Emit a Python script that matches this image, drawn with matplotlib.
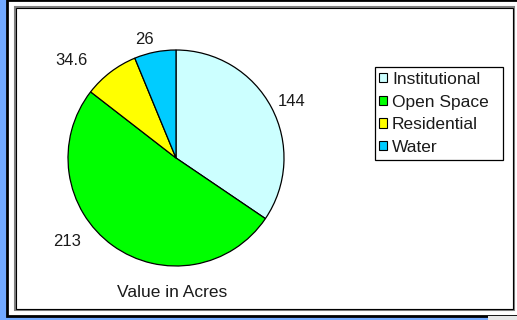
import matplotlib.pyplot as plt
from matplotlib.patches import Rectangle, Patch

plt.rcParams['font.family'] = ['Liberation Sans', 'DejaVu Sans']

# land use values (acres)
categories = ["Institutional", "Open Space", "Residential", "Water"]
values = [144, 213, 34.6, 26]
value_labels = ["144", "213", "34.6", "26"]
colors = ["#CCFFFF", "#00FF00", "#FFFF00", "#00CCFF"]

# where each value label sits, in pie units (radius = 1)
label_pos = [(1.07, 0.52), (-1.01, -0.77), (-0.97, 0.90), (-0.29, 1.10)]

W, H = 517, 320
fig = plt.figure(figsize=(W / 100, H / 100), dpi=100, facecolor="#72A9FF")


def box(x0, y0, x1, y1, z=-10, **kw):
    # rectangle given in pixels, origin at top-left
    r = Rectangle((x0 / W, 1 - y1 / H), (x1 - x0) / W, (y1 - y0) / H,
                  transform=fig.transFigure, zorder=z, **kw)
    fig.add_artist(r)


# outer panel with its dark edge, then the inner framed area
box(7, 0, 530, 316, facecolor="white", edgecolor="black", lw=2.0)
box(488, 316, 517, 320, facecolor="#E8E8E8", edgecolor="none")
box(14.5, 6.5, 513.5, 309.5, facecolor="white", edgecolor="#808080", lw=1.5)
box(15.5, 7.5, 513, 309, facecolor="none", edgecolor="black", lw=0.8)

# legend box
box(374.5, 66.5, 502.5, 159.5, facecolor="white", edgecolor="black", lw=0.9)

# pie: centre (176, 158), radius 108 px
cx, cy, r = 176, 158, 108
ax = fig.add_axes([(cx - r) / W, 1 - (cy + r) / H, 2 * r / W, 2 * r / H])
ax.pie(values, colors=colors, startangle=90, counterclock=False,
       wedgeprops=dict(edgecolor="black", linewidth=0.9))
ax.set_xlim(-1, 1)
ax.set_ylim(-1, 1)
ax.set_aspect("auto")
ax.axis("off")

for (x, y), txt in zip(label_pos, value_labels):
    ax.text(x, y, txt, ha="center", va="center", fontsize=12, color="#1A1A1A",
            clip_on=False)

fig.text(172 / W, 1 - 292.5 / H, "Value in Acres", ha="center", va="center",
         fontsize=12.5, color="#1A1A1A")

handles = [Patch(facecolor=c, edgecolor="black", linewidth=0.8) for c in colors]
leg = fig.legend(handles, categories, loc="upper left",
                 bbox_to_anchor=(379 / W, 1 - 72 / H),
                 bbox_transform=fig.transFigure,
                 fontsize=12.5, frameon=False, borderpad=0,
                 handlelength=0.45, handleheight=0.45, handletextpad=0.3,
                 labelspacing=0.44, borderaxespad=0)
for t in leg.get_texts():
    t.set_color("#1A1A1A")

fig.savefig("out.png", dpi=100, facecolor=fig.get_facecolor())
